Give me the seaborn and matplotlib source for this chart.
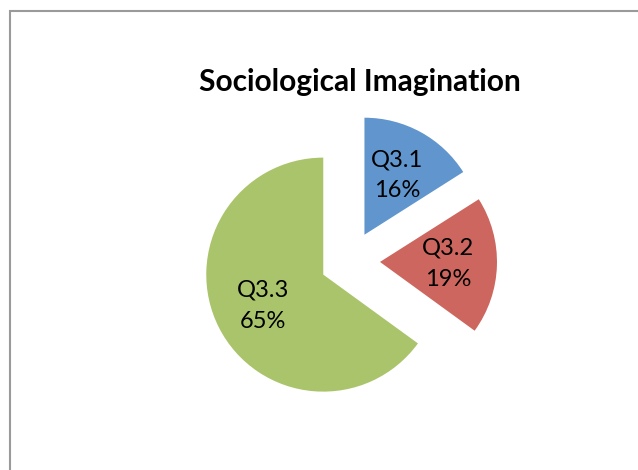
import matplotlib
matplotlib.use("Agg")
import matplotlib.pyplot as plt
import seaborn as sns
from matplotlib.patches import Rectangle

# data
categories = ["Q3.1", "Q3.2", "Q3.3"]
shares = [16, 19, 65]
colors = ["#6096CD", "#CD665E", "#AAC46B"]
title = "Sociological Imagination"

sns.set_theme(style="white")
plt.rcParams["font.family"] = ["Lato", "DejaVu Sans"]

W, H = 638, 470
fig = plt.figure(figsize=(W / 100, H / 100), dpi=100)
ax = fig.add_axes([0, 0, 1, 1])

labels_iter = iter(categories)


def fmt(pct):
    return f"{next(labels_iter)}\n{pct:.0f}%"


radius = 117
wedges, texts, autotexts = ax.pie(
    shares,
    colors=colors,
    startangle=90,
    counterclock=False,
    radius=radius,
    center=(350, 209),
    explode=[30] * len(shares),
    autopct=fmt,
    pctdistance=0.58,
    frame=True,
    wedgeprops=dict(linewidth=0),
    textprops=dict(fontsize=17, color="black", linespacing=1.6),
)

ax.set_xlim(0, W)
ax.set_ylim(0, H)
ax.set_aspect("equal")
ax.axis("off")

ax.text(360, H - 82, title, ha="center", va="center", fontsize=21.5,
        fontweight="bold", color="black")

# chart area border
ax.add_patch(Rectangle((9.5, -10), W + 20, H - 10 + 10 - 0.5, fill=False,
                       edgecolor="#9a9a9a", linewidth=1.5, clip_on=False))

fig.savefig("out.png", dpi=100, facecolor="white")
